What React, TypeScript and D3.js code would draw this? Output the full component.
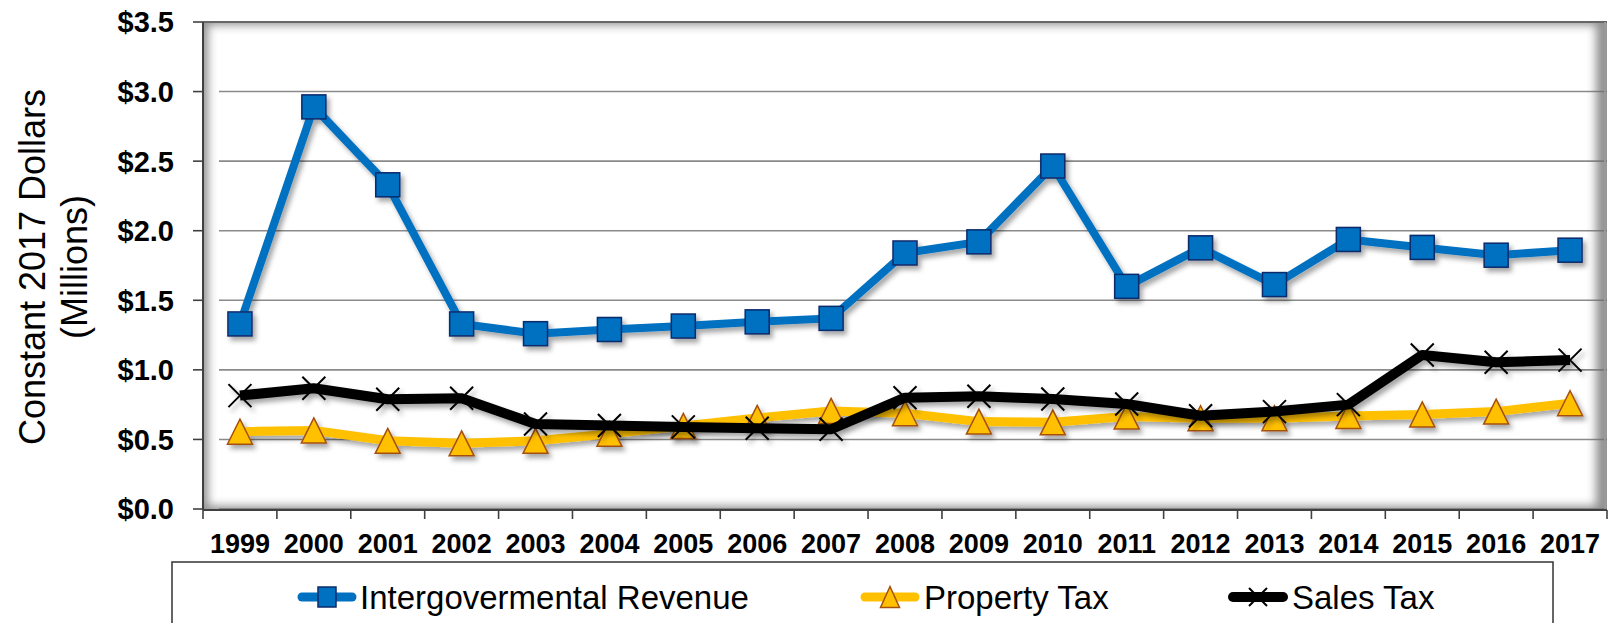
import React from 'react';
import * as d3 from 'd3';

const years = ['1999','2000','2001','2002','2003','2004','2005','2006','2007','2008','2009','2010','2011','2012','2013','2014','2015','2016','2017'];
const intergovRevenue = [1.33, 2.89, 2.33, 1.33, 1.26, 1.29, 1.315, 1.345, 1.37, 1.84, 1.92, 2.465, 1.60, 1.877, 1.613, 1.937, 1.88, 1.824, 1.86];
const propertyTax = [0.556, 0.565, 0.49, 0.472, 0.49, 0.54, 0.597, 0.655, 0.705, 0.688, 0.628, 0.623, 0.664, 0.652, 0.652, 0.669, 0.68, 0.70, 0.76];
const salesTax = [0.815, 0.868, 0.789, 0.796, 0.611, 0.60, 0.59, 0.58, 0.573, 0.80, 0.81, 0.79, 0.755, 0.67, 0.70, 0.75, 1.107, 1.055, 1.07];
const yTicks = [0, 0.5, 1.0, 1.5, 2.0, 2.5, 3.0, 3.5];
const seriesNames = ['Intergovermental Revenue', 'Property Tax', 'Sales Tax'];

const W = 1608, H = 623;
const L = 203, R = 1607, T = 22, B = 509;
const FONT = 'Liberation Sans, Arial, Helvetica, sans-serif';

const BLUE = '#0070C0', BLUE_DARK = '#0B2A6B';
const GOLD = '#FFC000', GOLD_DARK = '#A5500F';

function tri(cx: number, cy: number, w: number, h: number) {
  return `M${cx},${cy - h / 2}L${cx + w / 2},${cy + h / 2}L${cx - w / 2},${cy + h / 2}Z`;
}
function cross(cx: number, cy: number, s: number) {
  const r = s / 2;
  return `M${cx - r},${cy - r}L${cx + r},${cy + r}M${cx - r},${cy + r}L${cx + r},${cy - r}`;
}

export default function App() {
  const x = d3.scaleBand<string>().domain(years).range([L, R]).padding(0);
  const y = d3.scaleLinear().domain([0, 3.5]).range([B, T]);
  const cx = (yr: string) => (x(yr) as number) + x.bandwidth() / 2;
  const line = d3.line<number>().x((_, i) => cx(years[i])).y(d => y(d));

  const legendY = 597;
  const legend = [
    { x1: 298, x2: 356, tx: 360 },
    { x1: 861, x2: 919, tx: 924 },
    { x1: 1229, x2: 1287, tx: 1292 },
  ];

  return (
    <div style={{ position: 'absolute', left: 0, top: 0 }}>
      <svg width={W} height={H} style={{ display: 'block', background: '#fff' }} fontFamily={FONT}>
        <defs>
          <filter id="ds" x="-20%" y="-20%" width="140%" height="140%">
            <feDropShadow dx="3" dy="4" stdDeviation="2.5" floodColor="#000" floodOpacity="0.35" />
          </filter>
          <filter id="blur" x="-10%" y="-10%" width="120%" height="120%">
            <feGaussianBlur stdDeviation="5" />
          </filter>
          <clipPath id="plotClip">
            <rect x={L} y={T} width={R - L} height={B - T} />
          </clipPath>
        </defs>

        {/* plot area */}
        <rect x={L} y={T} width={R - L} height={B - T} fill="#fff" />
        {/* gridlines */}
        {yTicks.map(t => (
          <line key={'g' + t} x1={L + 16} x2={R} y1={y(t)} y2={y(t)} stroke="#8a8a8a" strokeWidth={1.6} />
        ))}
        {/* inner shadow */}
        <g clipPath="url(#plotClip)">
          <rect x={L - 4} y={T - 6} width={R - L + 2} height={B - T + 12} fill="none" stroke="#6b6b6b" strokeWidth={18} filter="url(#blur)" opacity={0.75} />
        </g>
        <line x1={L} x2={R} y1={T} y2={T} stroke="#666" strokeWidth={2} />
        <line x1={R - 2} x2={R - 2} y1={T} y2={B} stroke="#999" strokeWidth={2} />

        {/* axes */}
        <line x1={L} x2={L} y1={T} y2={B + 1} stroke="#404040" strokeWidth={2} />
        {yTicks.map(t => (
          <line key={'yt' + t} x1={L - 10} x2={L} y1={y(t)} y2={y(t)} stroke="#404040" strokeWidth={1.6} />
        ))}
        <line x1={L} x2={R} y1={B + 1} y2={B + 1} stroke="#404040" strokeWidth={2} />
        {d3.range(years.length + 1).map(i => (
          <line key={'xt' + i} x1={L + i * x.bandwidth()} x2={L + i * x.bandwidth()} y1={B + 1} y2={B + 10} stroke="#404040" strokeWidth={1.6} />
        ))}

        {/* y tick labels */}
        {yTicks.map(t => (
          <text key={'yl' + t} x={174} y={y(t)} dy="0.36em" textAnchor="end" fontWeight="bold" fontSize={29} fill="#000">
            {'$' + t.toFixed(1)}
          </text>
        ))}
        {/* x tick labels */}
        {years.map(yr => (
          <text key={'xl' + yr} x={cx(yr)} y={553} textAnchor="middle" fontWeight="bold" fontSize={27} fill="#000">
            {yr}
          </text>
        ))}

        {/* y axis title */}
        <text transform={`translate(45,267) rotate(-90)`} textAnchor="middle" fontSize={36} fill="#000">Constant 2017 Dollars</text>
        <text transform={`translate(87,267) rotate(-90)`} textAnchor="middle" fontSize={36} fill="#000">(Millions)</text>

        {/* series */}
        <g filter="url(#ds)">
          <path d={line(intergovRevenue) || ''} fill="none" stroke={BLUE} strokeWidth={8} strokeLinejoin="round" />
          {intergovRevenue.map((v, i) => (
            <rect key={'sq' + i} x={cx(years[i]) - 12} y={y(v) - 12} width={24} height={24} fill={BLUE} stroke={BLUE_DARK} strokeWidth={1.5} />
          ))}
        </g>
        <g filter="url(#ds)">
          <path d={line(propertyTax) || ''} fill="none" stroke={GOLD} strokeWidth={9} strokeLinejoin="round" />
          {propertyTax.map((v, i) => (
            <path key={'tr' + i} d={tri(cx(years[i]), y(v), 25, 25)} fill={GOLD} stroke={GOLD_DARK} strokeWidth={1.5} strokeLinejoin="miter" />
          ))}
        </g>
        <g filter="url(#ds)">
          <path d={line(salesTax) || ''} fill="none" stroke="#000" strokeWidth={10} strokeLinejoin="round" />
          {salesTax.map((v, i) => (
            <path key={'cr' + i} d={cross(cx(years[i]), y(v), 23)} fill="none" stroke="#000" strokeWidth={2} />
          ))}
        </g>

        {/* legend */}
        <rect x={172} y={562} width={1381} height={90} fill="#fff" stroke="#333" strokeWidth={1.5} />
        {legend.map((lg, i) => {
          const mx = (lg.x1 + lg.x2) / 2;
          return (
            <g key={'lg' + i}>
              <line x1={lg.x1 + 4} x2={lg.x2 - 4} y1={legendY} y2={legendY}
                stroke={i === 0 ? BLUE : i === 1 ? GOLD : '#000'} strokeWidth={i === 2 ? 10 : 9} strokeLinecap="round" />
              {i === 0 && <rect x={mx - 9} y={legendY - 10} width={18} height={20} fill={BLUE} stroke={BLUE_DARK} strokeWidth={1.5} />}
              {i === 1 && <path d={tri(mx, legendY, 19, 21)} fill={GOLD} stroke={GOLD_DARK} strokeWidth={1.5} />}
              {i === 2 && <path d={cross(mx, legendY, 18)} fill="none" stroke="#000" strokeWidth={2} />}
              <text x={lg.tx} y={legendY} dy="0.36em" fontSize={33} fill="#000">{seriesNames[i]}</text>
            </g>
          );
        })}
      </svg>
    </div>
  );
}
